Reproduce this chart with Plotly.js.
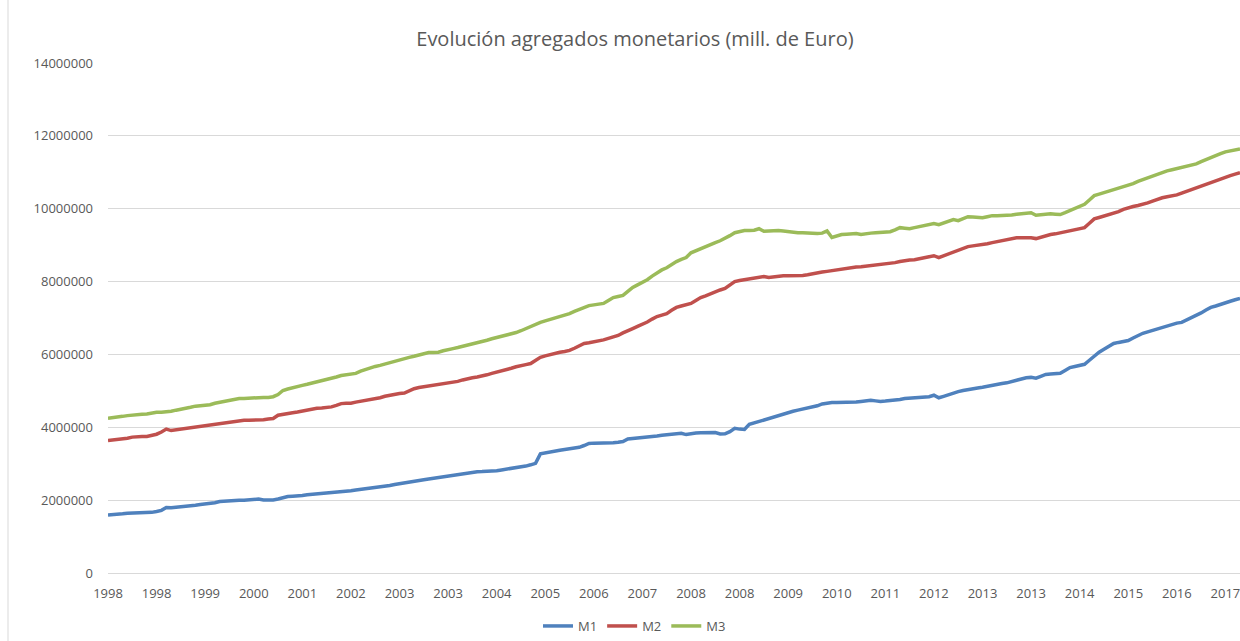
<!DOCTYPE html>
<html>
<head>
<meta charset="utf-8">
<script src="https://cdn.plot.ly/plotly-3.0.1.min.js"></script>
<style>
  html, body { margin: 0; padding: 0; background: #ffffff; }
  #chart { width: 1240px; height: 641px; }
</style>
</head>
<body>
<div id="chart"></div>
<script>
// monthly values from Jan 1998
var m1 = [
  1590000,1595000,1610000,1625000,1640000,1645000,1660000,1655000,1650000,1665000,1690000,1720000,
  1800000,1790000,1805000,1815000,1830000,1845000,1860000,1880000,1895000,1905000,1930000,1960000,
  1975000,1980000,1990000,2000000,2000000,2005000,2010000,2030000,2005000,2000000,2005000,2030000,
  2070000,2100000,2110000,2115000,2130000,2150000,2160000,2170000,2185000,2195000,2210000,2225000,
  2240000,2250000,2260000,2280000,2295000,2310000,2320000,2335000,2350000,2375000,2400000,2430000,
  2455000,2480000,2500000,2520000,2540000,2560000,2580000,2600000,2620000,2640000,2650000,2675000,
  2700000,2725000,2750000,2770000,2780000,2785000,2790000,2800000,2810000,2830000,2850000,2870000,
  2890000,2900000,2935000,2970000,3010000,3270000,3300000,3320000,3345000,3370000,3390000,3410000,
  3430000,3450000,3500000,3555000,3565000,3565000,3570000,3565000,3575000,3590000,3610000,3680000,
  3690000,3700000,3720000,3735000,3750000,3760000,3780000,3795000,3810000,3825000,3835000,3800000,
  3830000,3840000,3850000,3855000,3860000,3855000,3815000,3820000,3880000,3970000,3950000,3940000,
  4080000,4120000,4170000,4220000,4260000,4300000,4330000,4370000,4410000,4440000,4470000,4500000,
  4530000,4550000,4590000,4640000,4670000,4680000,4680000,4680000,4685000,4690000,4695000,4710000,
  4725000,4740000,4725000,4710000,4720000,4730000,4740000,4765000,4790000,4800000,4810000,4820000,
  4830000,4840000,4880000,4810000,4850000,4900000,4950000,4980000,5010000,5040000,5060000,5080000,
  5100000,5130000,5160000,5180000,5200000,5220000,5260000,5300000,5340000,5360000,5370000,5350000,
  5400000,5450000,5460000,5470000,5480000,5560000,5640000,5670000,5700000,5730000,5840000,5960000,
  6060000,6140000,6220000,6300000,6330000,6360000,6380000,6450000,6520000,6580000,6620000,6660000,
  6710000,6760000,6800000,6830000,6860000,6880000,6940000,7000000,7070000,7140000,7220000,7290000,
  7330000,7380000,7420000,7460000,7500000,7540000
];

var m2 = [
  3640000,3650000,3660000,3670000,3700000,3730000,3745000,3750000,3750000,3770000,3810000,3870000,
  3950000,3910000,3930000,3950000,3970000,3990000,4010000,4030000,4050000,4060000,4080000,4100000,
  4120000,4140000,4160000,4180000,4190000,4190000,4190000,4200000,4210000,4230000,4240000,4330000,
  4360000,4380000,4400000,4420000,4450000,4480000,4500000,4520000,4530000,4545000,4560000,4600000,
  4650000,4660000,4660000,4690000,4710000,4730000,4750000,4780000,4810000,4850000,4880000,4920000,
  4930000,4940000,5000000,5060000,5090000,5110000,5130000,5150000,5160000,5180000,5200000,5230000,
  5260000,5300000,5340000,5360000,5380000,5400000,5440000,5480000,5510000,5550000,5590000,5620000,
  5660000,5700000,5720000,5750000,5840000,5920000,5960000,6000000,6030000,6060000,6080000,6110000,
  6170000,6240000,6300000,6320000,6340000,6360000,6400000,6440000,6480000,6520000,6590000,6660000,
  6710000,6770000,6820000,6890000,6970000,7040000,7080000,7120000,7210000,7290000,7330000,7370000,
  7400000,7480000,7560000,7610000,7670000,7720000,7770000,7810000,7900000,8000000,8030000,8050000,
  8070000,8090000,8110000,8140000,8110000,8130000,8150000,8160000,8160000,8160000,8165000,8170000,
  8190000,8220000,8240000,8260000,8280000,8300000,8330000,8360000,8370000,8385000,8400000,8410000,
  8425000,8440000,8450000,8465000,8480000,8490000,8520000,8550000,8580000,8590000,8600000,8630000,
  8660000,8690000,8710000,8660000,8710000,8760000,8810000,8850000,8900000,8960000,8980000,8995000,
  9010000,9040000,9070000,9100000,9130000,9150000,9175000,9200000,9200000,9210000,9200000,9180000,
  9220000,9260000,9290000,9310000,9340000,9370000,9400000,9430000,9460000,9480000,9600000,9720000,
  9760000,9800000,9830000,9860000,9920000,9980000,10030000,10060000,10090000,10120000,10160000,10210000,
  10260000,10300000,10330000,10355000,10380000,10430000,10480000,10530000,10580000,10620000,10660000,10710000,
  10770000,10830000,10880000,10910000,10950000,10990000
];

var m3 = [
  4250000,4260000,4280000,4300000,4320000,4340000,4360000,4360000,4365000,4390000,4410000,4410000,
  4415000,4440000,4470000,4490000,4520000,4550000,4580000,4590000,4600000,4620000,4660000,4690000,
  4710000,4740000,4770000,4790000,4790000,4800000,4820000,4825000,4820000,4820000,4840000,4900000,
  5010000,5050000,5090000,5120000,5150000,5180000,5210000,5250000,5290000,5320000,5340000,5380000,
  5420000,5440000,5460000,5480000,5540000,5590000,5630000,5670000,5700000,5740000,5780000,5810000,
  5850000,5890000,5920000,5950000,5980000,6020000,6050000,6050000,6060000,6100000,6140000,6160000,
  6190000,6220000,6250000,6290000,6330000,6360000,6390000,6430000,6460000,6490000,6530000,6570000,
  6600000,6650000,6710000,6770000,6830000,6880000,6920000,6960000,6990000,7040000,7080000,7120000,
  7180000,7240000,7300000,7340000,7360000,7380000,7400000,7480000,7560000,7590000,7620000,7730000,
  7840000,7910000,7980000,8050000,8150000,8250000,8320000,8380000,8470000,8550000,8610000,8660000,
  8790000,8850000,8900000,8960000,9010000,9070000,9120000,9180000,9260000,9340000,9370000,9400000,
  9400000,9410000,9450000,9380000,9390000,9400000,9400000,9390000,9370000,9350000,9340000,9340000,
  9330000,9320000,9320000,9330000,9390000,9210000,9250000,9290000,9300000,9310000,9320000,9290000,
  9320000,9330000,9340000,9350000,9360000,9370000,9420000,9480000,9465000,9450000,9480000,9510000,
  9540000,9560000,9590000,9560000,9610000,9660000,9700000,9670000,9730000,9780000,9770000,9760000,
  9750000,9780000,9810000,9810000,9810000,9815000,9830000,9845000,9860000,9875000,9890000,9820000,
  9840000,9850000,9860000,9850000,9840000,9890000,9950000,10010000,10080000,10120000,10240000,10360000,
  10400000,10440000,10480000,10520000,10560000,10600000,10630000,10690000,10750000,10800000,10850000,10900000,
  10960000,11000000,11040000,11070000,11100000,11130000,11160000,11200000,11230000,11290000,11350000,11400000,
  11450000,11510000,11560000,11580000,11610000,11640000
];

// the axis shows a label every 10 months, with the year of that month
var tick_labels = ['1998','1998','1999','2000','2001','2002','2003','2003','2004','2005','2006','2007',
		   '2008','2008','2009','2010','2011','2012','2013','2013','2014','2015','2016','2017'];

var months = [];
for (let i = 0; i < m1.length; i++) {
    var yr = 1998 + Math.floor(i / 12);
    var mo = (i % 12) + 1;
    months.push(yr + '-' + (mo < 10 ? '0' + mo : mo));
}
var tick_vals = [];
for (let i = 0; i < tick_labels.length; i++) {
    tick_vals.push(months[i * 10]);
}

var names = ['M1', 'M2', 'M3'];
var series = [m1, m2, m3];
var colors = ['#4f81bd', '#c0504d', '#9bbb59'];

var data = [];
for (let i = 0; i < series.length; i++) {
    data.push({
	name: names[i],
	type: 'scatter',
	mode: 'lines',
	x: months,
	y: series[i],
	line: { color: colors[i], width: 3.5 },
	hoverinfo: 'skip'
    });
}

var grey = '#595959';
var gridc = '#d9d9d9';

var layout = {
    width: 1240,
    height: 641,
    margin: { l: 108, r: 0, t: 63, b: 68 },
    paper_bgcolor: '#ffffff',
    plot_bgcolor: '#ffffff',
    font: { family: 'Open Sans, sans-serif', color: grey, size: 13 },
    title: {
	text: 'Evolución agregados monetarios (mill. de Euro)',
	font: { family: 'Open Sans, sans-serif', size: 20, color: grey },
	xref: 'paper', x: 0.4655, xanchor: 'center',
	yref: 'container', y: 0.939, yanchor: 'middle'
    },
    xaxis: {
	type: 'category',
	range: [0, 233],
	tickmode: 'array',
	tickvals: tick_vals,
	ticktext: tick_labels,
	showgrid: false,
	showline: true,
	linecolor: gridc,
	linewidth: 1,
	ticks: '',
	ticklabelstandoff: 8,
	tickfont: { size: 13, color: grey }
    },
    yaxis: {
	range: [0, 14000000],
	dtick: 2000000,
	tick0: 0,
	tickformat: 'd',
	showgrid: true,
	gridcolor: gridc,
	gridwidth: 1,
	zeroline: false,
	ticks: '',
	ticklabelstandoff: 14,
	tickfont: { size: 13, color: grey }
    },
    showlegend: true,
    legend: {
	orientation: 'h',
	x: (538 - 108) / 1132, xanchor: 'left',
	y: (573 - 626) / 510, yanchor: 'middle',
	font: { size: 13, color: grey },
	itemwidth: 30,
	tracegroupgap: 0
    },
    shapes: [{
	type: 'line', xref: 'paper', yref: 'paper',
	x0: (8 - 108) / 1132, x1: (8 - 108) / 1132,
	y0: (573 - 641) / 510, y1: 573 / 510,
	line: { color: gridc, width: 1 }
    }]
};

Plotly.newPlot('chart', data, layout, { displayModeBar: false, staticPlot: true });
</script>
</body>
</html>
